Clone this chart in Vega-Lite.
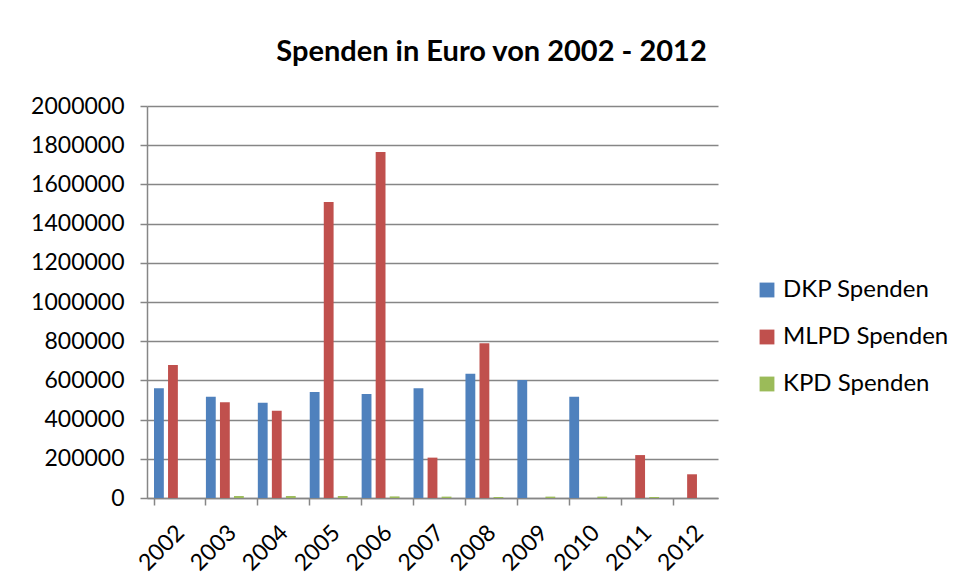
{
  "$schema": "https://vega.github.io/schema/vega-lite/v6.json",
  "autosize": {"type": "none"},
  "width": 571,
  "height": 392,
  "padding": {"left": 147, "top": 106, "right": 246, "bottom": 85},
  "background": "white",
  "title": {
    "text": "Spenden in Euro von 2002 - 2012",
    "font": "Lato",
    "fontSize": 29,
    "fontWeight": "bold",
    "color": "black",
    "anchor": "middle",
    "frame": "group",
    "dx": 59,
    "offset": 28
  },
  "data": {
    "values": [
      {"year": "2002", "series": "DKP Spenden", "value": 560000},
      {"year": "2002", "series": "MLPD Spenden", "value": 678000},
      {"year": "2003", "series": "DKP Spenden", "value": 517000},
      {"year": "2003", "series": "MLPD Spenden", "value": 488000},
      {"year": "2003", "series": "KPD Spenden", "value": 10000},
      {"year": "2004", "series": "DKP Spenden", "value": 486000},
      {"year": "2004", "series": "MLPD Spenden", "value": 445000},
      {"year": "2004", "series": "KPD Spenden", "value": 10000},
      {"year": "2005", "series": "DKP Spenden", "value": 541000},
      {"year": "2005", "series": "MLPD Spenden", "value": 1510000},
      {"year": "2005", "series": "KPD Spenden", "value": 10000},
      {"year": "2006", "series": "DKP Spenden", "value": 531000},
      {"year": "2006", "series": "MLPD Spenden", "value": 1765000},
      {"year": "2006", "series": "KPD Spenden", "value": 8000},
      {"year": "2007", "series": "DKP Spenden", "value": 560000},
      {"year": "2007", "series": "MLPD Spenden", "value": 206000},
      {"year": "2007", "series": "KPD Spenden", "value": 7000},
      {"year": "2008", "series": "DKP Spenden", "value": 634000},
      {"year": "2008", "series": "MLPD Spenden", "value": 789000},
      {"year": "2008", "series": "KPD Spenden", "value": 5000},
      {"year": "2009", "series": "DKP Spenden", "value": 602000},
      {"year": "2009", "series": "KPD Spenden", "value": 7000},
      {"year": "2010", "series": "DKP Spenden", "value": 517000},
      {"year": "2010", "series": "KPD Spenden", "value": 7000},
      {"year": "2011", "series": "MLPD Spenden", "value": 219000},
      {"year": "2011", "series": "KPD Spenden", "value": 5000},
      {"year": "2012", "series": "MLPD Spenden", "value": 121000}
    ]
  },
  "mark": {"type": "bar"},
  "encoding": {
    "x": {
      "field": "year",
      "type": "nominal",
      "scale": {"paddingInner": 0.27, "paddingOuter": 0.135},
      "axis": {
        "title": null,
        "labelAngle": -45,
        "labelFont": "Lato",
        "labelFontSize": 23,
        "labelColor": "black",
        "labelPadding": 16,
        "bandPosition": 0,
        "tickColor": "#868686",
        "tickWidth": 1.5,
        "tickSize": 7,
        "domainColor": "#868686",
        "domainWidth": 1.5,
        "grid": false
      }
    },
    "xOffset": {
      "field": "series",
      "type": "nominal",
      "scale": {"domain": ["DKP Spenden", "MLPD Spenden", "KPD Spenden"], "paddingInner": 0.3, "paddingOuter": 0}
    },
    "y": {
      "field": "value",
      "type": "quantitative",
      "scale": {"domain": [0, 2000000], "nice": false},
      "axis": {
        "title": null,
        "values": [0, 200000, 400000, 600000, 800000, 1000000, 1200000, 1400000, 1600000, 1800000, 2000000],
        "format": "d",
        "labelFont": "Lato",
        "labelFontSize": 23,
        "labelColor": "black",
        "labelPadding": 16,
        "tickColor": "#868686",
        "tickWidth": 1.5,
        "tickSize": 7,
        "domainColor": "#868686",
        "domainWidth": 1.5,
        "grid": true,
        "gridColor": "#868686",
        "gridWidth": 1.5
      }
    },
    "color": {
      "field": "series",
      "type": "nominal",
      "scale": {
        "domain": ["DKP Spenden", "MLPD Spenden", "KPD Spenden"],
        "range": ["#4F81BD", "#C0504D", "#9BBB59"]
      },
      "legend": {
        "title": null,
        "orient": "none",
        "legendX": 608,
        "legendY": 172,
        "symbolType": "square",
        "symbolSize": 220,
        "symbolStrokeWidth": 0,
        "labelFont": "Lato",
        "labelFontSize": 24,
        "labelColor": "black",
        "labelOffset": 4,
        "labelLimit": 400,
        "rowPadding": 23
      }
    }
  },
  "config": {
    "view": {"stroke": null}
  }
}
